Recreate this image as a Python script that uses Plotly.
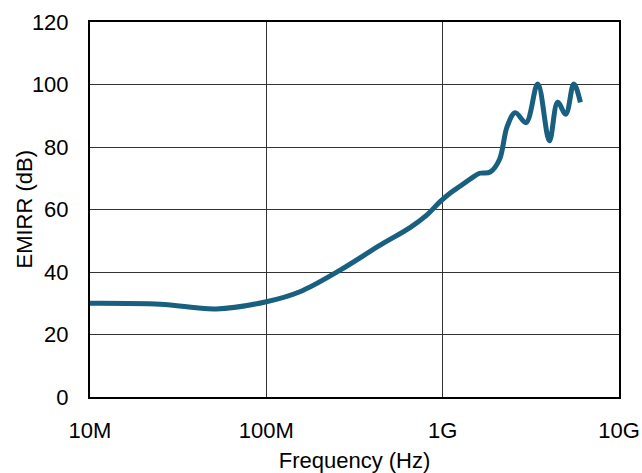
import plotly.graph_objects as go

freq_hz = [1.0e7, 2.5e7, 5.2e7, 1.0e8, 1.55e8, 2.62e8, 4.42e8, 6.53e8, 8.12e8, 9.67e8,
           1.10e9, 1.26e9, 1.50e9, 1.62e9, 1.86e9, 2.10e9, 2.32e9, 2.58e9, 2.97e9,
           3.46e9, 4.03e9, 4.49e9, 4.99e9, 5.54e9, 6.04e9]
emirr_db = [30.0, 29.7, 28.2, 30.5, 33.7, 40.6, 48.6, 54.2, 58.2, 62.5,
            65.2, 67.5, 70.5, 71.6, 72.0, 76.0, 86.5, 91.0, 87.8,
            100.2, 82.0, 94.3, 90.5, 100.2, 94.3]

x_tickvals = [1e7, 1e8, 1e9, 1e10]
x_ticktext = ["10M", "100M", "1G", "10G"]
y_tickvals = [0, 20, 40, 60, 80, 100, 120]
y_title = "EMIRR (dB)"
x_title = "Frequency (Hz)"

fig = go.Figure()
fig.add_trace(go.Scatter(
    x=freq_hz, y=emirr_db, mode="lines",
    line=dict(color="#185f80", width=5, shape="spline", smoothing=1.0),
    showlegend=False,
))

font = dict(family="Liberation Sans, Arial, sans-serif", size=22, color="black")

fig.update_layout(
    width=642, height=473,
    margin=dict(l=90, r=23, t=22, b=76),
    paper_bgcolor="white", plot_bgcolor="white",
    font=font,
)
fig.update_xaxes(
    type="log", range=[7, 10], automargin=False,
    tickvals=x_tickvals, ticktext=x_ticktext,
    showgrid=True, gridcolor="#333333", gridwidth=1,
    showline=True, mirror=True, linecolor="black", linewidth=2,
    ticks="", zeroline=False, ticklabelstandoff=13,
    title=dict(text=x_title, font=font, standoff=14),
)
fig.update_yaxes(
    range=[0, 120], tickvals=y_tickvals, automargin=False,
    showgrid=True, gridcolor="#333333", gridwidth=1,
    showline=True, mirror=True, linecolor="black", linewidth=2,
    ticks="", zeroline=False, ticklabelstandoff=15,
)
fig.add_annotation(
    text=y_title, textangle=-90, showarrow=False,
    xref="paper", yref="paper", x=0, y=0.5,
    xanchor="center", yanchor="middle", xshift=-66,
    font=font,
)

fig.write_html("out.html")
